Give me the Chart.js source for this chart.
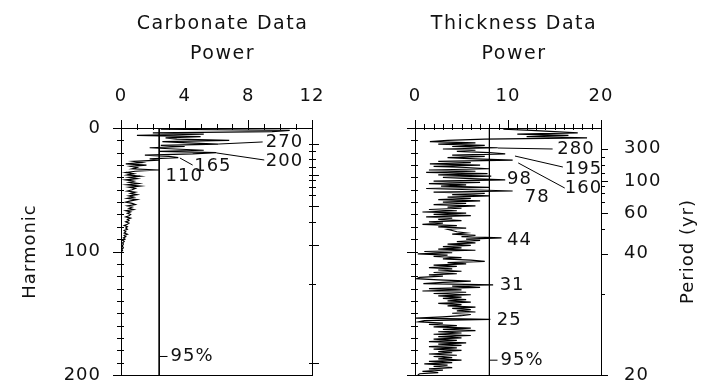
<!DOCTYPE html>
<html>
<head>
<meta charset="utf-8">
<script src="https://cdn.jsdelivr.net/npm/chart.js@4.4.0/dist/chart.umd.min.js"></script>
<style>
  html, body { margin: 0; padding: 0; background: #fff; }
  #wrap { position: relative; width: 702px; height: 383px; }
  .panel { position: absolute; top: 0; }
</style>
</head>
<body>
<div id="wrap">
  <canvas id="carbChart" class="panel" style="left:0" width="351" height="383"></canvas>
  <canvas id="thickChart" class="panel" style="left:351px" width="351" height="383"></canvas>
</div>
<script>
// Power spectra, one value per harmonic (harmonic 1, 2, 3 ...)
const carbonatePower = [
  2.5, 10.6, 9.5, 2.0, 5.2, 1.0, 5.0, 2.8, 3.5, 6.8,
  2.6, 4.2, 6.1, 2.5, 4.0, 1.8, 3.4, 5.2, 2.4, 6.0,
  4.5, 1.5, 3.0, 3.6, 1.8, 2.4, 0.8, 1.3, 0.3, 1.6,
  0.6, 1.0, 0.7, 2.4, 0.9, 0.3, 0.8, 0.4, 1.2, 0.5,
  1.0, 0.3, 0.8, 0.5, 1.1, 0.4, 1.2, 0.5, 0.9, 0.7,
  0.4, 0.9, 0.6, 1.0, 0.5, 0.8, 0.4, 1.0, 0.6, 0.3,
  0.7, 0.9, 0.4, 0.7, 0.5, 0.8, 0.3, 0.6, 0.4, 0.6,
  0.5, 0.3, 0.6, 0.4, 0.5, 0.3, 0.5, 0.4, 0.2, 0.4,
  0.3, 0.4, 0.2, 0.3, 0.2, 0.4, 0.2, 0.3, 0.15, 0.25,
  0.1, 0.2, 0.1, 0.15, 0.1, 0.1, 0.15, 0.05, 0.1, 0.05
];
const thicknessPower = [
  9.5, 12.5, 15.0, 17.5, 11.0, 16.5, 12.0, 18.5, 7.5, 3.5,
  1.6, 6.5, 2.5, 7.5, 4.0, 8.9, 3.0, 6.5, 4.5, 8.0,
  9.7, 4.0, 7.5, 3.5, 6.5, 10.5, 2.5, 6.0, 1.6, 7.0,
  2.0, 5.5, 8.0, 1.5, 6.5, 1.2, 7.8, 2.5, 8.2, 3.0,
  6.0, 9.7, 2.0, 7.0, 1.5, 5.5, 2.8, 8.0, 1.2, 6.0,
  10.5, 2.0, 7.5, 4.0, 8.0, 3.5, 6.0, 2.5, 7.0, 3.0,
  5.5, 2.0, 6.5, 3.5, 5.0, 1.5, 4.5, 0.8, 5.5, 2.0,
  6.0, 1.2, 4.0, 2.5, 5.0, 1.5, 3.0, 0.8, 4.5, 2.5,
  5.5, 3.5, 4.0, 4.5, 5.5, 4.0, 6.5, 5.0, 9.3, 5.5,
  7.0, 4.5, 6.5, 3.5, 6.0, 3.0, 5.0, 2.5, 6.5, 1.0,
  4.0, 0.3, 3.5, 2.0, 5.0, 3.0, 6.0, 7.5, 3.5, 5.5,
  2.0, 4.5, 1.5, 4.0, 2.5, 5.0, 2.0, 4.5, 1.5, 3.0,
  0.5, 0.2, 2.5, 6.0, 3.0, 0.9, 8.4, 4.0, 7.0, 1.5,
  5.0, 0.8, 5.5, 2.0, 6.0, 2.5, 5.0, 3.0, 5.5, 3.5,
  6.0, 2.5, 5.0, 3.5, 6.5, 4.0, 6.0, 4.5, 6.5, 4.0,
  6.0, 5.0, 3.0, 0.1, 8.1, 1.0, 0.4, 3.0, 1.5, 4.5,
  2.0, 6.0, 3.0, 6.5, 2.5, 5.0, 2.0, 6.0, 2.5, 5.0,
  2.0, 4.5, 1.5, 5.5, 2.5, 5.0, 1.5, 4.5, 2.0, 5.0,
  2.5, 4.0, 1.5, 4.5, 2.0, 4.0, 2.5, 5.0, 1.5, 4.0,
  1.0, 3.5, 2.0, 4.0, 1.5, 3.0, 0.8, 2.5, 0.5, 0.3
];

// 95% significance levels
const carbonateSig = 2.4;
const thicknessSig = 8.0;

// axis ticks
const carbonateTicks = [0, 4, 8, 12];
const thicknessTicks = [0, 10, 20];
const harmonicLabels = [0, 100, 200];
const periodLabels = [300, 100, 60, 40, 20];
const periodMinor = [200, 150, 120, 90, 80, 70, 50, 30];

// labelled spectral peaks (period in yr)
const carbonatePeaks = ['270', '200', '165', '110'];
const thicknessPeaks = ['280', '195', '160', '98', '78', '44', '31', '25'];

// harmonic <-> period for each record
const carbRecord = { len: 3800, off: 0 };
const thickRecord = { len: 3930, off: 3.5 };
const toHarmonic = (p, r) => r.off + r.len / p;

const FONT = '"DejaVu Sans", sans-serif';

function periodTicks(rec) {
  return periodLabels.map(p => ({ value: toHarmonic(p, rec), big: true, period: p }))
    .concat(periodMinor.map(p => ({ value: toHarmonic(p, rec), big: false, period: p })));
}

// leader lines / label spots, in (power, harmonic)
const carbLabelSpots = [
  { tip: [6.1, 13], end: [8.9, 11.3], at: [9.1, 11.7] },
  { tip: [6.0, 20.2], end: [9.0, 25.9], at: [9.1, 26.7] },
  { tip: [3.7, 24.3], end: [4.5, 30], at: [4.6, 31.2] },
  { at: [2.8, 38.9] }
];
const thickLabelSpots = [
  { tip: [8.9, 16.2], end: [14.8, 17], at: [15.3, 17.4] },
  { tip: [10.75, 22.7], end: [15.9, 31.6], at: [16.1, 33.6] },
  { tip: [11.1, 28.3], end: [16.1, 48.6], at: [16.1, 49] },
  { at: [9.9, 41.7] },
  { at: [11.8, 56.3] },
  { at: [9.9, 90.7] },
  { at: [9.1, 127.5] },
  { at: [8.8, 155.9] }
];

const decor = {
  id: 'decor',
  beforeDraw(chart) { chart.ctx.letterSpacing = '1px'; },
  afterDraw(chart, args, o) {
    const { ctx, chartArea: a, scales } = chart;
    const sx = scales.x, sy = scales.y, sp = scales.yp;
    const px = v => sx.getPixelForValue(v), py = v => sy.getPixelForValue(v);
    const seg = (x1, y1, x2, y2) => { ctx.beginPath(); ctx.moveTo(x1, y1); ctx.lineTo(x2, y2); ctx.stroke(); };
    ctx.save();
    ctx.strokeStyle = '#000';
    ctx.fillStyle = '#111';
    ctx.lineWidth = 1;
    ctx.strokeRect(a.left + 0.5, a.top + 0.5, a.right - a.left, a.bottom - a.top);

    sx.ticks.forEach(t => {
      const x = Math.round(px(t.value)) + 0.5;
      const big = o.xTicks.includes(t.value);
      seg(x, a.top + 2, x, a.top - (big ? 8 : 4));
    });
    sy.ticks.forEach(t => {
      const y = Math.round(py(t.value)) + 0.5;
      const big = harmonicLabels.includes(t.value);
      seg(a.left - (big ? 8 : 4), y, a.left + 3, y);
    });
    sp.ticks.forEach(t => {
      const y = Math.round(py(t.value)) + 0.5;
      seg(a.right - o.pIn, y, a.right + (t.big ? 7 : 4), y);
    });

    ctx.font = '19px ' + FONT;
    ctx.textBaseline = 'middle';
    ctx.textAlign = 'center';
    ctx.letterSpacing = '1.5px';
    const cx = (a.left + a.right) / 2 + 6;
    ctx.fillText(o.title[0], cx, 24);
    ctx.fillText(o.title[1], cx, 54);

    ctx.font = '18px ' + FONT;
    if (o.periodTitle) {
      ctx.save();
      ctx.letterSpacing = '1px';
      ctx.translate(a.right + 87, (a.top + a.bottom) / 2);
      ctx.rotate(-Math.PI / 2);
      ctx.fillText(o.periodTitle, 0, 0);
      ctx.restore();
    }

    ctx.letterSpacing = '1px';
    ctx.textAlign = 'left';
    o.peaks.forEach((txt, i) => {
      const s = o.spots[i];
      if (s.tip) seg(px(s.tip[0]), py(s.tip[1]), px(s.end[0]), py(s.end[1]));
      ctx.fillText(txt, px(s.at[0]), py(s.at[1]));
    });

    const xs = Math.round(px(o.sig)) + 0.5, ys = py(o.sigAt);
    seg(xs, ys, xs + 8, ys);
    ctx.fillText('95%', xs + 11, ys);
    ctx.restore();
  }
};

function fixW(w) { return s => { s.width = w; s.paddingTop = 0; s.paddingBottom = 0; }; }
function fixH(h) { return s => { s.height = h; s.paddingLeft = 0; s.paddingRight = 0; }; }

function makePanel(id, power, sig, xMax, xTicks, rec, opts) {
  const line = power.map((p, i) => ({ x: p, y: i + 1 }));
  new Chart(document.getElementById(id), {
    type: 'scatter',
    data: {
      datasets: [
        { data: line, showLine: true, borderColor: '#000', borderWidth: 1.2, pointRadius: 0 },
        { data: [{ x: sig, y: 0 }, { x: sig, y: 200 }], showLine: true, borderColor: '#000', borderWidth: 1, pointRadius: 0 }
      ]
    },
    options: {
      responsive: false,
      animation: false,
      layout: { padding: { left: 0, right: opts.padRight, top: 0, bottom: 8 } },
      plugins: {
        legend: { display: false },
        tooltip: { enabled: false },
        decor: {
          title: opts.title, xTicks, peaks: opts.peaks, spots: opts.spots, sig,
          sigAt: opts.sigAt, pIn: opts.pIn, periodTitle: opts.periodTitle
        }
      },
      scales: {
        x: {
          type: 'linear', position: 'top', min: 0, max: xMax,
          grid: { display: false, drawTicks: false }, border: { display: false },
          ticks: {
            stepSize: 1, autoSkip: false, maxRotation: 0, padding: 21, color: '#111',
            font: { family: FONT, size: 18 },
            callback: v => xTicks.includes(v) ? String(v) : ''
          },
          afterFit: fixH(128)
        },
        y: {
          type: 'linear', position: 'left', min: 0, max: 200, reverse: true,
          grid: { display: false, drawTicks: false }, border: { display: false },
          ticks: {
            display: opts.harmonicText, stepSize: 10, autoSkip: false, padding: 20, color: '#111',
            font: { family: FONT, size: 18 },
            callback: v => harmonicLabels.includes(v) ? String(v) : ''
          },
          title: {
            display: opts.harmonicText, text: 'Harmonic', color: '#111',
            font: { family: FONT, size: 18 }, padding: { top: 20, bottom: 0 }
          },
          afterFit: fixW(opts.leftW)
        },
        yp: {
          type: 'linear', position: 'right', min: 0, max: 200, reverse: true,
          grid: { display: false, drawTicks: false }, border: { display: false },
          afterBuildTicks: s => { s.ticks = periodTicks(rec); },
          ticks: {
            display: opts.periodTicks, autoSkip: false, padding: 23, color: '#111',
            font: { family: FONT, size: 18 },
            callback: (v, i, ticks) => ticks[i].big ? String(ticks[i].period) : ''
          },
          afterFit: fixW(opts.rightW)
        }
      }
    },
    plugins: [decor]
  });
}

makePanel('carbChart', carbonatePower, carbonateSig, 12, carbonateTicks, carbRecord, {
  title: ['Carbonate Data', 'Power'], peaks: carbonatePeaks, spots: carbLabelSpots,
  sigAt: 185, pIn: 3, harmonicText: true, periodTicks: false, periodTitle: null,
  leftW: 121, rightW: 0, padRight: 39
});
makePanel('thickChart', thicknessPower, thicknessSig, 20, thicknessTicks, thickRecord, {
  title: ['Thickness Data', 'Power'], peaks: thicknessPeaks, spots: thickLabelSpots,
  sigAt: 188, pIn: 0, harmonicText: false, periodTicks: true, periodTitle: 'Period (yr)',
  leftW: 64, rightW: 101, padRight: 0
});
</script>
</body>
</html>
